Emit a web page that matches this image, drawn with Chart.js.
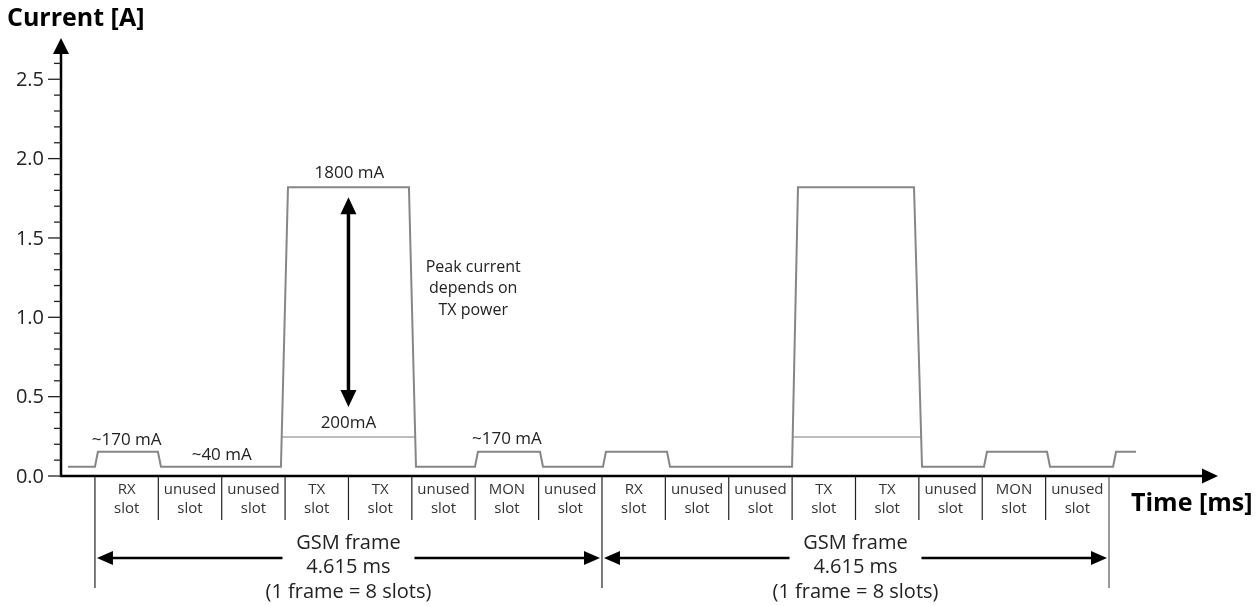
<!DOCTYPE html>
<html>
<head>
<meta charset="utf-8">
<script src="https://cdn.jsdelivr.net/npm/chart.js@4.4.1/dist/chart.umd.min.js"></script>
<style>
  html, body { margin: 0; padding: 0; background: #fff; }
  canvas { display: block; }
</style>
</head>
<body>
<canvas id="gsmCurrent" width="1260" height="606"></canvas>
<script>
// current drawn by the module (time in ms, current in A)
const waveTime = [-0.246, 0, 0.027, 0.573, 0.601, 1.693, 1.757, 2.858, 2.922, 3.459, 3.486, 4.051, 4.078,
  4.624, 4.651, 5.207, 5.234, 6.345, 6.399, 7.455, 7.528, 8.092, 8.119, 8.666, 8.693, 9.267, 9.294, 9.476];
const waveCurrent = [0.058, 0.058, 0.153, 0.153, 0.058, 0.058, 1.82, 1.82, 0.058, 0.058, 0.153, 0.153, 0.058,
  0.058, 0.153, 0.153, 0.058, 0.058, 1.82, 1.82, 0.058, 0.058, 0.153, 0.153, 0.058, 0.058, 0.153, 0.153];

// low TX power level (null breaks the line between the two bursts)
const lowTime = [1.700, 2.915, 4.615, 6.351, 7.520];
const lowCurrent = [0.245, 0.245, null, 0.245, 0.245];

// y axis ticks
const yMajor = [0, 0.5, 1.0, 1.5, 2.0, 2.5];
const yMinor = [0.1, 0.2, 0.3, 0.4, 0.6, 0.7, 0.8, 0.9, 1.1, 1.2, 1.3, 1.4, 1.6, 1.7, 1.8, 1.9, 2.1, 2.2, 2.3, 2.4, 2.6];

// GSM frame, 8 slots each
const frameMs = 4.615;
const frameCount = 2;
const slotNames = ['RX', 'unused', 'unused', 'TX', 'TX', 'unused', 'MON', 'unused'];

const FONT = '"Open Sans", "Noto Sans", sans-serif';

function head(ctx, x, y, dir, len, half) { // filled arrow head, tip at x,y
  ctx.beginPath();
  ctx.moveTo(x, y);
  if (dir === 'up') { ctx.lineTo(x - half, y + len); ctx.lineTo(x + half, y + len); }
  if (dir === 'down') { ctx.lineTo(x - half, y - len); ctx.lineTo(x + half, y - len); }
  if (dir === 'left') { ctx.lineTo(x + len, y - half); ctx.lineTo(x + len, y + half); }
  if (dir === 'right') { ctx.lineTo(x - len, y - half); ctx.lineTo(x - len, y + half); }
  ctx.closePath();
  ctx.fill();
}

function line(ctx, x1, y1, x2, y2) {
  ctx.beginPath();
  ctx.moveTo(x1, y1);
  ctx.lineTo(x2, y2);
  ctx.stroke();
}

const sketchPlugin = {
  id: 'gsmSketch',
  afterDatasetsDraw(chart) {
    const ctx = chart.ctx;
    const xs = chart.scales.x, ys = chart.scales.y;
    const area = chart.chartArea;
    const x0 = area.left;
    const y0 = ys.getPixelForValue(0);
    ctx.save();
    ctx.fillStyle = '#000';
    ctx.strokeStyle = '#000';

    // axes with arrows
    ctx.lineWidth = 2.5;
    line(ctx, x0, y0 + 1, x0, area.top + 12);
    head(ctx, x0, area.top, 'up', 16, 8);
    line(ctx, x0 - 1, y0, area.right - 12, y0);
    head(ctx, area.right, y0, 'right', 16, 7.5);

    // y ticks
    ctx.lineWidth = 1.3;
    ctx.strokeStyle = '#222';
    yMajor.forEach(v => line(ctx, x0 - 13, ys.getPixelForValue(v), x0, ys.getPixelForValue(v)));
    yMinor.forEach(v => line(ctx, x0 - 7, ys.getPixelForValue(v), x0, ys.getPixelForValue(v)));
    ctx.fillStyle = '#222';
    ctx.font = '20px ' + FONT;
    ctx.textAlign = 'right';
    ctx.textBaseline = 'middle';
    yMajor.forEach(v => ctx.fillText(v.toFixed(1), x0 - 17, ys.getPixelForValue(v) + 1));

    // axis titles
    ctx.fillStyle = '#000';
    ctx.font = 'bold 25px ' + FONT;
    ctx.textAlign = 'left';
    ctx.fillText('Current [A]', 7, 19);
    ctx.fillText('Time [ms]', 1131, y0 + 28);

    // slots and frames
    const slotMs = frameMs / 8;
    ctx.lineWidth = 1.2;
    ctx.strokeStyle = '#222';
    ctx.font = '15px ' + FONT;
    ctx.textAlign = 'center';
    ctx.fillStyle = '#333';
    for (let f = 0; f < frameCount; f++) {
      for (let i = 0; i < slotNames.length; i++) {
        const t = f * frameMs + i * slotMs;
        const x = xs.getPixelForValue(t);
        line(ctx, x, y0 + 1, x, y0 + (i === 0 ? 112 : 44));
        const cx = xs.getPixelForValue(t + slotMs / 2);
        ctx.fillText(slotNames[i], cx, y0 + 14);
        ctx.fillText('slot', cx, y0 + 33);
      }
    }
    const xEnd = xs.getPixelForValue(frameCount * frameMs);
    ctx.strokeStyle = '#555';
    line(ctx, xEnd, y0 + 1, xEnd, y0 + 112);

    // frame length arrows
    ctx.fillStyle = '#000';
    ctx.strokeStyle = '#000';
    for (let f = 0; f < frameCount; f++) {
      const xa = xs.getPixelForValue(f * frameMs) + 2;
      const xb = xs.getPixelForValue((f + 1) * frameMs) - 2;
      const cx = (xa + xb) / 2;
      const ya = y0 + 82;
      ctx.lineWidth = 2.5;
      line(ctx, xa + 10, ya, cx - 66, ya);
      line(ctx, cx + 66, ya, xb - 10, ya);
      head(ctx, xa, ya, 'left', 16, 7);
      head(ctx, xb, ya, 'right', 16, 7);
      ctx.fillStyle = '#222';
      ctx.font = '20px ' + FONT;
      ctx.fillText('GSM frame', cx, y0 + 67);
      ctx.fillText('4.615 ms', cx, y0 + 91);
      ctx.fillText('(1 frame = 8 slots)', cx, y0 + 116);
      ctx.fillStyle = '#000';
    }

    // level annotations
    ctx.fillStyle = '#222';
    ctx.font = '17px ' + FONT;
    const yRx = ys.getPixelForValue(0.153);
    const yIdle = ys.getPixelForValue(0.058);
    const yPeak = ys.getPixelForValue(1.82);
    const yLow = ys.getPixelForValue(0.245);
    const xTx = xs.getPixelForValue(4 * slotMs);
    ctx.fillText('~170 mA', xs.getPixelForValue(0.5 * slotMs), yRx - 12);
    ctx.fillText('~40 mA', xs.getPixelForValue(2 * slotMs), yIdle - 12);
    ctx.fillText('~170 mA', xs.getPixelForValue(6.5 * slotMs), yRx - 13);
    ctx.fillText('1800 mA', xTx + 1, yPeak - 14);
    ctx.fillText('200mA', xTx, yLow - 14);
    ctx.font = '16px ' + FONT;
    const xNote = xs.getPixelForValue(6 * slotMs) - 2;
    const yNote = ys.getPixelForValue(1.185);
    ctx.fillText('Peak current', xNote, yNote - 21);
    ctx.fillText('depends on', xNote, yNote);
    ctx.fillText('TX power', xNote, yNote + 22);

    // peak current range arrow
    ctx.fillStyle = '#000';
    ctx.lineWidth = 3.5;
    line(ctx, xTx, yPeak + 22, xTx, yLow - 42);
    head(ctx, xTx, yPeak + 10, 'up', 17, 8);
    head(ctx, xTx, yLow - 30, 'down', 17, 8);

    ctx.restore();
  }
};

new Chart(document.getElementById('gsmCurrent'), {
  type: 'line',
  data: {
    datasets: [
      {
        label: 'Current',
        data: waveTime.map((t, i) => ({ x: t, y: waveCurrent[i] })),
        borderColor: '#868686',
        borderWidth: 2,
        pointRadius: 0,
        tension: 0
      },
      {
        label: 'Low TX power',
        data: lowTime.map((t, i) => ({ x: t, y: lowCurrent[i] })),
        borderColor: '#bdbdbd',
        borderWidth: 2,
        pointRadius: 0,
        tension: 0,
        spanGaps: false
      }
    ]
  },
  options: {
    responsive: false,
    animation: false,
    layout: { padding: { left: 61, right: 42, top: 38, bottom: 130 } },
    plugins: { legend: { display: false }, tooltip: { enabled: false } },
    scales: {
      x: { type: 'linear', min: -0.309, max: 10.222, display: false },
      y: { min: 0, max: 2.76, display: false }
    }
  },
  plugins: [sketchPlugin]
});
</script>
</body>
</html>
